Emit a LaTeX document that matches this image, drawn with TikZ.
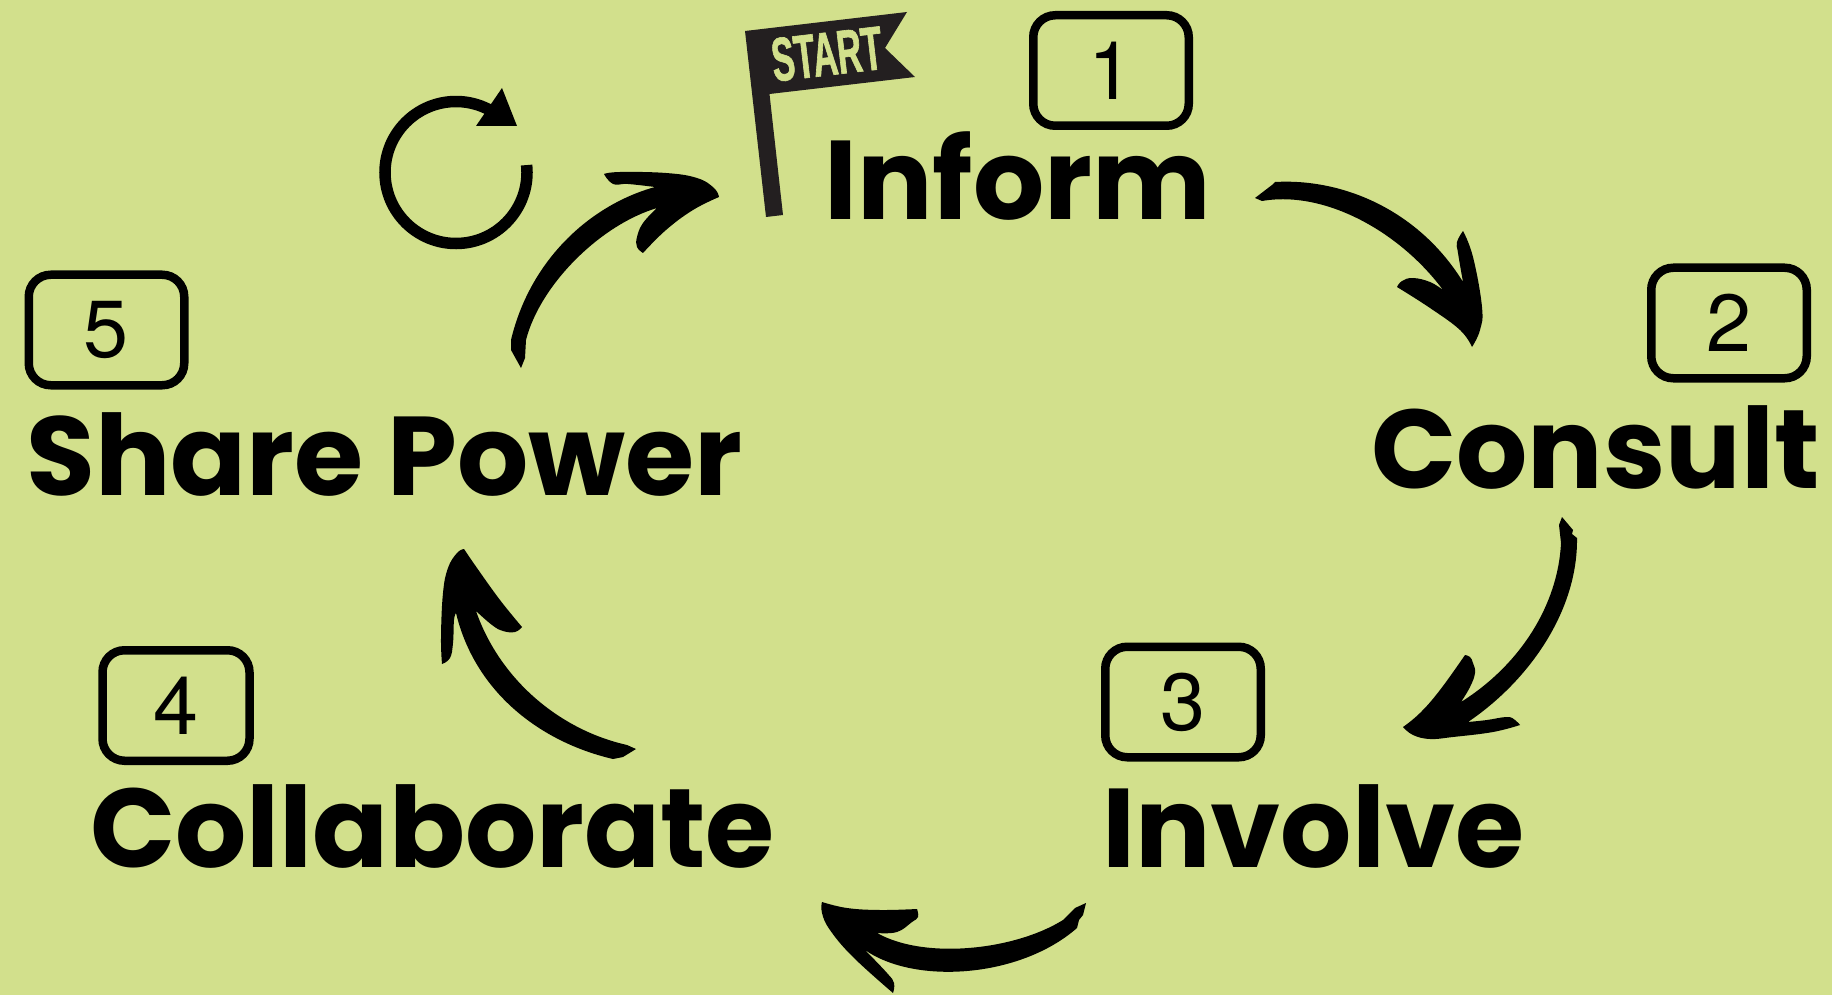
\documentclass[tikz,border=0pt]{standalone}
\usepackage{fontspec}
\setmainfont{Poppins}
\newfontfamily\numberfont{TeX Gyre Heros}
\newfontfamily\flagfont[FakeStretch=0.55,FakeBold=1]{Liberation Sans Bold}
\definecolor{leaf}{HTML}{D2E08C}
\definecolor{flagink}{HTML}{231F20}
\tikzset{
    step label/.style={anchor=base west, inner sep=0pt, font=\fontsize{112}{112}\selectfont\bfseries},
    number box/.style={rectangle, draw=black, line width=8.5pt, rounded corners=22pt, minimum width=155.5pt,
                       minimum height=110.5pt, font=\numberfont\fontsize{81}{81}\selectfont},
    brush/.style={fill=black},
    run/.style={smooth, tension=0.7}
}
\begin{document}
\begin{tikzpicture}[x=1pt, y=-1pt]

    % Background
    \path[use as bounding box, fill=leaf] (0,0) rectangle (1832,995);

    % Step names
    \node[step label] (inform) at (824,220) {Inform};
    \node[step label] (consult) at (1371,488) {Consult};
    \node[step label] (involve) at (1102,867) {Involve};
    \node[step label] (collaborate) at (90,867) {Collaborate};
    \node[step label] (share) at (26,495) {Share Power};

    % Number boxes
    \node[number box] (box1) at (1111,70.5) {1};
    \node[number box] (box2) at (1729,323) {2};
    \node[number box] (box3) at (1183,702) {3};
    \node[number box, minimum width=147pt] (box4) at (176,705.5) {4};
    \node[number box] (box5) at (106.5,330) {5};

    % Start flag
    \fill[flagink] (745,31) -- (907,12) -- (885,48) -- (915,77) -- (769.5,94) -- (783,215) -- (766,217) -- cycle;
    \node[leaf, font=\flagfont\fontsize{62}{62}\selectfont, rotate=6.7, inner sep=0pt] (start) at (827,54) {START};

    % Repeat icon
    \draw[line width=11.5pt] (456,172.5) ++(-6:71) arc[start angle=-6, end angle=303, radius=71];
    \fill (502,88) -- (517,126) -- (476,126) -- cycle;

    % Ends of the arrows
    \coordinate (informTail) at (1255,198);
    \coordinate (consultTip) at (1472,347);
    \coordinate (consultTail) at (1562,517);
    \coordinate (involveTip) at (1403,727);
    \coordinate (involveTail) at (1086,903);
    \coordinate (collabTip) at (893,993);
    \coordinate (collabTail) at (636,749);
    \coordinate (shareTip) at (464,549);
    \coordinate (shareTail) at (521,368);
    \coordinate (informTip) at (719,197);

    % Inform to Consult
    \fill[brush] (informTail) -- (1272,185) -- (1275,182) .. controls (1345,178) and (1420,212) .. (1463,282)
        -- plot[run] coordinates {(1463,282) (1458,253) (1457,242) (1463,231)}
        -- plot[run] coordinates {(1463,231) (1473,257) (1482,307) (1480,330) (consultTip)}
        -- plot[run] coordinates {(consultTip) (1460,330) (1430,308) (1397,287)}
        -- plot[run] coordinates {(1397,287) (1402,281) (1413,278) (1430,282) (1443,290)}
        .. controls (1400,232) and (1325,190) .. (1262,201) -- cycle;

    % Consult to Involve
    \fill[brush] (consultTail) -- (1573,530) -- (1572,534) -- (1577,538) .. controls (1578,610) and (1530,680) .. (1468,722)
        -- plot[run] coordinates {(1468,722) (1487,720) (1507,717) (1515,720) (1520,725)}
        -- plot[run] coordinates {(1520,725) (1493,732) (1453,737) (1430,739) (1413,735) (involveTip)}
        -- plot[run] coordinates {(involveTip) (1420,713) (1440,690) (1465,655)}
        -- plot[run] coordinates {(1465,655) (1470,657) (1473,663) (1475,673) (1470,687) (1461,702)}
        .. controls (1520,665) and (1558,605) .. (1561,543) -- (1559,525) -- cycle;

    % Involve to Collaborate
    \fill[brush] (involveTail) -- (1075,908) -- (1063,920) .. controls (1015,950) and (925,960) .. (877,933)
        -- plot[run] coordinates {(877,933) (897,932) (912,922) (918,917) (917,909)}
        -- plot[run] coordinates {(917,909) (880,910) (847,908) (822,902)}
        -- plot[run] coordinates {(822,902) (822,913) (830,930) (853,957) (collabTip)}
        -- plot[run] coordinates {(collabTip) (894,983) (887,973) (865,950)}
        .. controls (915,985) and (1020,978) .. (1077,928)
        -- (1079,920) -- (1083,915) -- cycle;

    % Collaborate to Share Power
    \fill[brush] (collabTail) -- (627,745) .. controls (560,730) and (500,680) .. (476,611)
        -- plot[run] coordinates {(476,611) (492,625) (503,631) (515,632) (522,627)}
        -- plot[run] coordinates {(522,627) (500,600) (477,568) (shareTip)}
        -- plot[run] coordinates {(shareTip) (457,553) (448,568) (443,593) (441,637) (442,664)}
        -- plot[run] coordinates {(442,664) (450,658) (453,643) (454,620) (456,613)}
        .. controls (475,692) and (540,742) .. (613,759)
        -- (623,757) -- cycle;

    % Share Power to Inform
    \fill[brush] (shareTail) -- (511,350) -- (511,340) .. controls (530,260) and (590,205) .. (655,187)
        -- plot[run] coordinates {(655,187) (628,184) (613,184) (604,174)}
        -- plot[run] coordinates {(604,174) (620,172) (666,173) (697,178) (714,188) (informTip)}
        -- plot[run] coordinates {(informTip) (693,210) (666,230) (643,253)}
        -- plot[run] coordinates {(643,253) (637,247) (637,237) (643,223) (657,208)}
        .. controls (600,225) and (540,285) .. (526,340) -- (525,358) -- cycle;

\end{tikzpicture}
\end{document}
